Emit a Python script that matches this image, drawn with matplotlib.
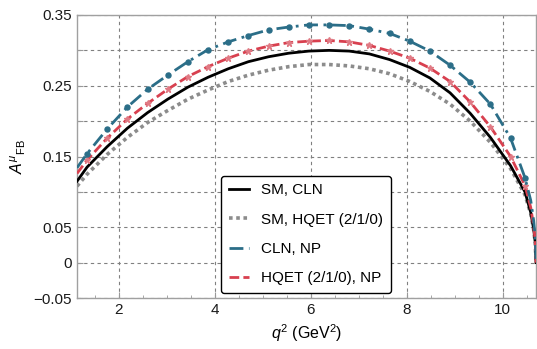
import matplotlib
matplotlib.use("Agg")
import matplotlib.pyplot as plt
from matplotlib.ticker import MultipleLocator, FixedLocator

plt.rcParams['font.family'] = ['Liberation Sans', 'DejaVu Sans']
plt.rcParams['mathtext.fontset'] = 'custom'
plt.rcParams['mathtext.rm'] = 'Liberation Sans'
plt.rcParams['mathtext.it'] = 'Liberation Sans:italic'
plt.rcParams['mathtext.bf'] = 'Liberation Sans:bold'

q2 = [1.13, 1.34, 1.76, 2.18, 2.60, 3.02, 3.44, 3.86, 4.28, 4.70, 5.12, 5.54,
      5.96, 6.38, 6.80, 7.22, 7.64, 8.06, 8.48, 8.90, 9.32, 9.74, 10.16, 10.46,
      10.58, 10.64, 10.675, 10.69]

sm_cln = [0.115, 0.135, 0.164, 0.190, 0.212, 0.231, 0.248, 0.262, 0.274, 0.284,
          0.291, 0.296, 0.299, 0.300, 0.299, 0.295, 0.287, 0.276, 0.261, 0.240,
          0.211, 0.177, 0.137, 0.100, 0.071, 0.048, 0.028, 0.0]

sm_hqet = [0.108, 0.125, 0.153, 0.177, 0.198, 0.215, 0.231, 0.244, 0.256, 0.265,
           0.272, 0.277, 0.280, 0.280, 0.278, 0.274, 0.267, 0.256, 0.242, 0.224,
           0.200, 0.170, 0.133, 0.096, 0.069, 0.047, 0.027, 0.0]

cln_np = [0.134, 0.154, 0.189, 0.220, 0.245, 0.265, 0.284, 0.301, 0.312, 0.321,
          0.329, 0.333, 0.336, 0.336, 0.335, 0.330, 0.324, 0.313, 0.299, 0.279,
          0.255, 0.224, 0.176, 0.120, 0.088, 0.060, 0.035, 0.0]

hqet_np = [0.126, 0.145, 0.176, 0.203, 0.225, 0.245, 0.263, 0.277, 0.289, 0.299,
           0.306, 0.311, 0.313, 0.314, 0.312, 0.307, 0.299, 0.289, 0.275, 0.256,
           0.227, 0.192, 0.150, 0.109, 0.078, 0.052, 0.030, 0.0]

labels = ["SM, CLN", "SM, HQET (2/1/0)", "CLN, NP", "HQET (2/1/0), NP"]
ytick_vals = [-0.05, 0.0, 0.05, 0.10, 0.15, 0.20, 0.25, 0.30, 0.35]
ytick_labels = ["\u22120.05", "0", "0.05", "", "0.15", "", "0.25", "", "0.35"]
xtick_vals = [2, 4, 6, 8, 10]
marker_idx = list(range(1, 24))

fig = plt.figure(figsize=(5.37, 3.49), dpi=100)
ax = fig.add_axes([77/537, 51/349, 459/537, 283/349])

blue = '#2b6e88'
red = '#d8404f'
gray = '#8c8c8c'

ax.plot(q2, sm_cln, color='black', lw=2.0, label=labels[0], zorder=5)
ax.plot(q2, sm_hqet, color=gray, lw=2.6, linestyle=(0, (1, 1)), label=labels[1], zorder=4)
ax.plot(q2, cln_np, color=blue, lw=2.0, linestyle=(0, (5, 2, 1, 2)),
        label=labels[2], zorder=6)
ax.plot(q2, cln_np, color=blue, lw=0, marker='o', markersize=3.6,
        markevery=marker_idx, label='_nolegend_', zorder=6)
ax.plot(q2, hqet_np, color=red, lw=2.0, linestyle=(0, (3.5, 1.5)),
        label=labels[3], zorder=5)
ax.plot(q2, hqet_np, color='#e07a84', lw=0, marker='*', markersize=4.5,
        markevery=marker_idx, label='_nolegend_', zorder=5)

ax.set_xlim(1.13, 10.69)
ax.set_ylim(-0.05, 0.35)

ax.xaxis.set_major_locator(FixedLocator(xtick_vals))
ax.xaxis.set_minor_locator(MultipleLocator(0.5))
ax.yaxis.set_major_locator(FixedLocator(ytick_vals))
ax.set_yticklabels(ytick_labels)

ax.tick_params(which='both', direction='in', color='#999999', labelsize=11, labelcolor='#1a1a1a')
ax.tick_params(which='major', length=4, width=0.8)
ax.tick_params(which='minor', length=2, width=0.6)
ax.tick_params(top=False, right=False)

for s in ax.spines.values():
    s.set_color('#a0a0a0')
    s.set_linewidth(1.0)

ax.grid(True, which='major', color='#808080', linestyle=(0, (3, 3)), linewidth=0.8)
ax.set_axisbelow(True)

ax.set_xlabel(r'$q^2$ (GeV$^2$)', fontsize=11.5, labelpad=4)
ax.set_ylabel(r'$A^{\mu}{}_{\rm FB}$', fontsize=11.5, labelpad=4)

leg = ax.legend(loc='lower center', bbox_to_anchor=(0.499, 0.018), fontsize=11,
                frameon=True, fancybox=True, edgecolor='black', framealpha=1,
                handlelength=1.3, labelspacing=1.0, borderpad=0.5, handletextpad=0.8,
                borderaxespad=0)
leg.get_frame().set_linewidth(1.0)
leg.set_zorder(10)

fig.savefig('out.png', dpi=100)
